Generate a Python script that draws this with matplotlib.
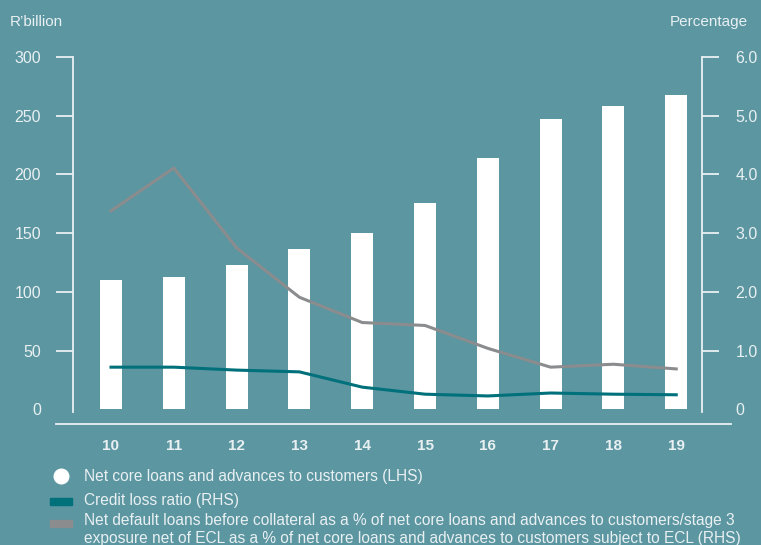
import numpy as np
import matplotlib
matplotlib.use('Agg')
import matplotlib.pyplot as plt
from matplotlib.lines import Line2D
from matplotlib.patches import Rectangle

# data
years = ['10', '11', '12', '13', '14', '15', '16', '17', '18', '19']
loans = [110.6, 113, 123, 137, 150, 176, 214, 247, 258, 268]          # R'billion (LHS)
credit_loss = [0.72, 0.72, 0.67, 0.64, 0.38, 0.26, 0.23, 0.28, 0.26, 0.25]  # % (RHS)
default_loans = [3.38, 4.11, 2.75, 1.91, 1.48, 1.43, 1.04, 0.72, 0.77, 0.69]  # % (RHS)

left_ticks = [0, 50, 100, 150, 200, 250, 300]
right_ticks = [0, 1, 2, 3, 4, 5, 6]
right_labels = ['0', '1.0', '2.0', '3.0', '4.0', '5.0', '6.0']

bg = '#5b96a1'
fg = '#e9f0f2'
teal = '#00717b'
grey = '#8a8c8e'

plt.rcParams['font.family'] = ['Liberation Sans', 'DejaVu Sans']

W, H = 761, 545
fig = plt.figure(figsize=(W/100, H/100), dpi=100, facecolor=bg)

# axes in pixel coords
x0, x1 = 73, 702
y_top, y_bot = 57, 412.4
ax = fig.add_axes([x0/W, 1 - y_bot/H, (x1 - x0)/W, (y_bot - y_top)/H])
ax.set_facecolor(bg)
ax2 = ax.twinx()

x = np.arange(len(years))
ax.bar(x, loans, width=0.35, color='white', zorder=2)
ax2.plot(x, default_loans, color=grey, lw=2.2, zorder=3)
ax2.plot(x, credit_loss, color=teal, lw=2.2, zorder=3)

ax.set_xlim(-0.605, 9.41)
ax.set_ylim(-2.5, 300)
ax2.set_ylim(-0.05, 6.0)

for a in (ax, ax2):
    for s in ['top', 'bottom']:
        a.spines[s].set_visible(False)
ax.spines['right'].set_visible(False)
ax2.spines['left'].set_visible(False)
ax.spines['left'].set_color(fg)
ax.spines['left'].set_linewidth(1.3)
ax2.spines['right'].set_color(fg)
ax2.spines['right'].set_linewidth(1.3)

ax.set_yticks(left_ticks)
ax.set_yticklabels([str(t) for t in left_ticks])
ax.tick_params(axis='y', colors=fg, labelcolor=fg, length=12, width=1.3, pad=11, labelsize=11.5)
ax2.set_yticks(right_ticks)
ax2.set_yticklabels(right_labels)
ax2.tick_params(axis='y', colors=fg, labelcolor=fg, length=12, width=1.3, pad=12, labelsize=11.5)
ax.yaxis.get_major_ticks()[0].tick1line.set_visible(False)
ax2.yaxis.get_major_ticks()[0].tick2line.set_visible(False)

ax.set_xticks(x)
ax.set_xticklabels(years, fontweight='bold')
ax.tick_params(axis='x', length=0, pad=19, labelsize=11, labelcolor=fg)

# bottom rule
fig.add_artist(Line2D([56/W, 731/W], [1 - 424/H, 1 - 424/H], color=fg, lw=1.3))

fig.text(10/W, 1 - 22/H, 'R\u2019billion', color=fg, fontsize=11, va='center', ha='left')
fig.text(748/W, 1 - 22/H, 'Percentage', color=fg, fontsize=11, va='center', ha='right')

# legend
fig.add_artist(Line2D([61/W], [1 - 476/H], marker='o', markersize=10.5, color='white', lw=0))
fig.add_artist(Rectangle((50/W, 1 - 504.5/H), 22/W, 7/H, color=teal))
fig.add_artist(Rectangle((50/W, 1 - 526.5/H), 22/W, 7/H, color=grey))
legend_text = [
    (476, 'Net core loans and advances to customers (LHS)'),
    (501, 'Credit loss ratio (RHS)'),
    (520, 'Net default loans before collateral as a % of net core loans and advances to customers/stage 3'),
    (538.5, 'exposure net of ECL as a % of net core loans and advances to customers subject to ECL (RHS)'),
]
for yy, t in legend_text:
    fig.text(84/W, 1 - yy/H, t, color=fg, fontsize=11.2, va='center', ha='left')

fig.savefig('out.png', dpi=100, facecolor=bg)
